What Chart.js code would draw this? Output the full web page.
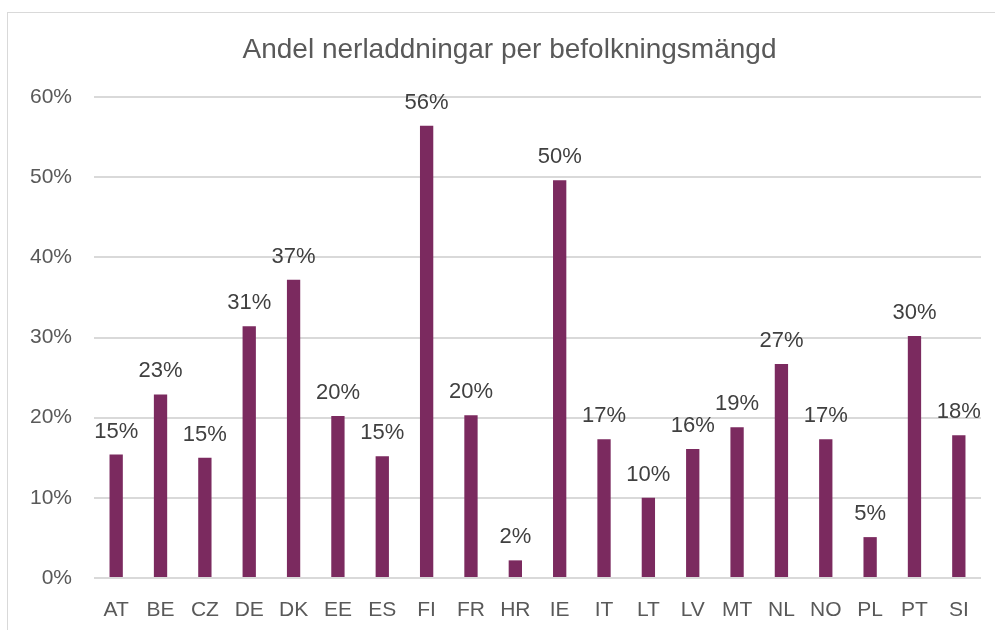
<!DOCTYPE html>
<html>
<head>
<meta charset="utf-8">
<script src="https://cdn.jsdelivr.net/npm/chart.js@4"></script>
<style>
  html, body { margin: 0; padding: 0; background: #fff; }
  #wrap { width: 995px; height: 630px; }
</style>
</head>
<body>
<div id="wrap"><canvas id="chart" width="995" height="630"></canvas></div>
<script>
const countries = ['AT', 'BE', 'CZ', 'DE', 'DK', 'EE', 'ES', 'FI', 'FR', 'HR', 'IE', 'IT', 'LT', 'LV', 'MT', 'NL', 'NO', 'PL', 'PT', 'SI'];
const shares = [15.4, 22.9, 15.0, 31.4, 37.2, 20.2, 15.2, 56.4, 20.3, 2.2, 49.6, 17.3, 10.0, 16.1, 18.8, 26.7, 17.3, 5.1, 30.2, 17.8];
const yTicks = [0, 10, 20, 30, 40, 50, 60];
const chartTitle = 'Andel nerladdningar per befolkningsmängd';

const FONT = 'Liberation Sans, Arial, sans-serif';

// light frame round the chart plus the title (centred on the frame, not the canvas)
const framePlugin = {
    id: 'frame',
    beforeDraw(chart) {
        const ctx = chart.ctx;
        ctx.save();
        ctx.strokeStyle = '#d9d9d9';
        ctx.lineWidth = 1;
        ctx.strokeRect(7.5, 12.5, 1100, 1100);
        ctx.font = '28px ' + FONT;
        ctx.fillStyle = '#595959';
        ctx.textAlign = 'center';
        ctx.textBaseline = 'alphabetic';
        ctx.fillText(chartTitle, 509.5, 58);
        ctx.restore();
    }
};

// value labels above the bars
const valueLabels = {
    id: 'valueLabels',
    afterDatasetsDraw(chart) {
        const ctx = chart.ctx;
        const meta = chart.getDatasetMeta(0);
        ctx.save();
        ctx.font = '22px ' + FONT;
        ctx.fillStyle = '#404040';
        ctx.textAlign = 'center';
        ctx.textBaseline = 'alphabetic';
        meta.data.forEach((bar, i) => {
            ctx.fillText(Math.round(shares[i]) + '%', bar.x, bar.y - 17);
        });
        ctx.restore();
    }
};

new Chart(document.getElementById('chart'), {
    type: 'bar',
    data: {
        labels: countries,
        datasets: [{
            data: shares,
            backgroundColor: '#7b2a5f',
            barPercentage: 0.6,
            categoryPercentage: 0.5
        }]
    },
    options: {
        responsive: false,
        animation: false,
        layout: { padding: { left: 0, right: 14, top: 97, bottom: 0 } },
        plugins: {
            legend: { display: false },
            tooltip: { enabled: false },
            title: { display: false }
        },
        scales: {
            x: {
                grid: { display: false },
                border: { display: false },
                ticks: { color: '#595959', font: { family: FONT, size: 21 }, padding: 12 },
                afterFit(scale) { scale.height = 52; }
            },
            y: {
                min: 0,
                max: 60,
                afterBuildTicks(scale) { scale.ticks = yTicks.map(v => ({ value: v })); },
                grid: { color: '#d9d9d9', lineWidth: 2, drawTicks: false },
                border: { display: false },
                ticks: {
                    color: '#595959',
                    font: { family: FONT, size: 21 },
                    padding: 22,
                    callback: v => v + '%'
                },
                afterFit(scale) { scale.width = 94; }
            }
        }
    },
    plugins: [framePlugin, valueLabels]
});
</script>
</body>
</html>
